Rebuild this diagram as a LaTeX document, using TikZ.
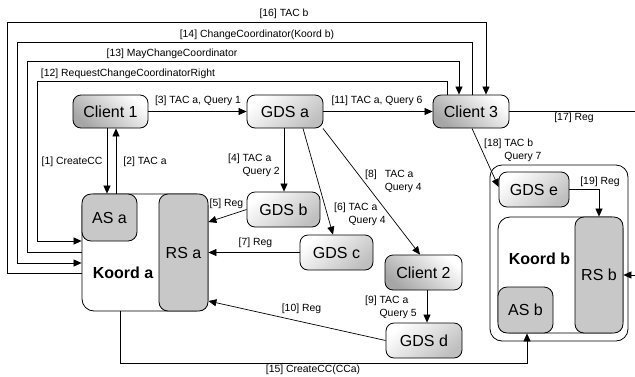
\documentclass[tikz,border=0pt]{standalone}
\usepackage{fontspec}
\setmainfont{Liberation Sans}
\usetikzlibrary{arrows.meta}
\definecolor{srvgray}{HTML}{C8C8C8}

\begin{document}
\begin{tikzpicture}[x=1pt, y=-1pt,
  box/.style={draw, rounded corners=8pt, inner sep=0pt, line width=0.8pt,
    font=\fontsize{16}{18}\selectfont},
  gds/.style={box, top color=white, bottom color=gray!50, shading angle=40},
  client/.style={box, top color=white, bottom color=gray!70, shading angle=-40},
  server/.style={draw, rounded corners=9pt, fill=srvgray, inner sep=0pt,
    line width=0.8pt, font=\fontsize{16}{18}\selectfont},
  koord/.style={draw, rounded corners=12pt, fill=white, line width=0.8pt, inner sep=0pt},
  klabel/.style={font=\fontsize{16}{18}\selectfont\bfseries, inner sep=0pt},
  lbl/.style={font=\fontsize{10.4}{13}\selectfont, inner sep=0pt},
  conn/.style={line width=0.7pt},
  arr/.style={conn, -{Triangle[length=8pt,width=7pt]}}]
\useasboundingbox (0,0) rectangle (635,376);

% ---- coordinator a ----
\node[koord, minimum width=126pt, minimum height=117pt] (koorda) at (145,252.5) {};
\node[server, minimum width=55pt, minimum height=47pt] (asa) at (109.5,217.5) {AS a};
\node[server, minimum width=49pt, minimum height=117pt] (rsa) at (183.5,252.5) {RS a};
\node[klabel] (koordalbl) at (123,273) {Koord a};

% ---- coordinator b ----
\node[koord, minimum width=138pt, minimum height=176pt] (domb) at (559,253) {};
\node[koord, minimum width=125pt, minimum height=116pt] (koordb) at (560.5,275) {};
\node[server, minimum width=48pt, minimum height=116pt] (rsb) at (599,275) {RS b};
\node[server, minimum width=55pt, minimum height=46pt] (asb) at (525.5,310) {AS b};
\node[klabel] (koordblbl) at (539.5,259) {Koord b};

% ---- clients and directory servers ----
\node[client, minimum width=75pt, minimum height=33pt] (client1) at (110.5,111.5) {Client 1};
\node[gds, minimum width=76pt, minimum height=33pt] (gdsa) at (285,111.5) {GDS a};
\node[client, minimum width=76pt, minimum height=33pt] (client3) at (471,111.5) {Client 3};
\node[gds, minimum width=73pt, minimum height=35pt] (gdsb) at (283.5,209.5) {GDS b};
\node[gds, minimum width=73pt, minimum height=35pt] (gdsc) at (336.5,252.5) {GDS c};
\node[client, minimum width=77pt, minimum height=35pt] (client2) at (423.5,272.5) {Client 2};
\node[gds, minimum width=76pt, minimum height=35pt] (gdsd) at (424,340.5) {GDS d};
\node[gds, minimum width=70pt, minimum height=35pt] (gdse) at (534,189.5) {GDS e};

% the return line of [17] runs just beyond the right edge
\coordinate (rt) at (637,0);

% ---- messages ----
\draw[arr] (client1.south -| 107,0) -- (asa.north -| 107,0);
\draw[arr] (asa.north -| 116,0) -- (client1.south -| 116,0);
\draw[arr] (client1) -- (gdsa);
\draw[arr] (gdsa.south -| 284,0) -- (gdsb.north -| 284,0);
\draw[arr] (gdsb.west) -- (rsa.east |- 0,222);
\draw[arr] (gdsa.south -| 303,0) -- (gdsc.north -| 333,0);
\draw[arr] (gdsc.west) -- (rsa.east |- gdsc.west);
\draw[arr] (gdsa.-24) -- (client2.north -| 420,0);
\draw[arr] (client2.south -| 427,0) -- (gdsd.north -| 427,0);
\draw[arr] (gdsd.west) -- (rsa.east |- 0,301);
\draw[arr] (gdsa) -- (client3);
\draw[arr] (client3.north -| 447,0) -- (447,81) -- (37,81) -- (37,241) -- (koorda.west |- 0,241);
\draw[arr] (koorda.west |- 0,252) -- (27,252) -- (27,61) -- (459,61) -- (client3.north -| 459,0);
\draw[arr] (client3.north -| 472,0) -- (472,42) -- (17,42) -- (17,263) -- (koorda.west |- 0,263);
\draw[arr] (koorda.south -| 120,0) -- (120,363) -- (527,363) -- (asb.south -| 527,0);
\draw[arr] (koorda.west |- 0,273) -- (7,273) -- (7,22) -- (486,22) -- (client3.north -| 486,0);
\draw[arr] (client3.east) -- (client3.east -| rt) -- (rt |- rsb.east) -- (rsb.east);
\draw[arr] (client3.south -| 472,0) -- (gdse.west |- 0,187);
\draw[arr] (gdse.east) -- (gdse.east -| rsb.north) -- (rsb.north);

% ---- message labels ----
\node[lbl] (l1) at (72,162) {[1] CreateCC};
\node[lbl] (l2) at (145,162) {[2] TAC a};
\node[lbl] (l3) at (198,101) {[3] TAC a, Query 1};
\node[lbl, anchor=west] (l4) at (228,165)
  {\begin{tabular}{@{}l@{ }l@{}}[4] & TAC a\\ & Query 2\end{tabular}};
\node[lbl] (l5) at (226.5,204) {[5] Reg};
\node[lbl, anchor=west] (l6) at (334,214)
  {\begin{tabular}{@{}l@{ }l@{}}[6] & TAC a\\ & Query 4\end{tabular}};
\node[lbl] (l7) at (255.5,243) {[7] Reg};
\node[lbl, anchor=west] (l8) at (365,181)
  {\begin{tabular}{@{}l@{\hspace{8pt}}l@{}}[8] & TAC a\\ & Query 4\end{tabular}};
\node[lbl, anchor=west] (l9) at (365,307.5)
  {\begin{tabular}{@{}l@{ }l@{}}[9] & TAC a\\ & Query 5\end{tabular}};
\node[lbl] (l10) at (301.5,309) {[10] Reg};
\node[lbl] (l11) at (377,101) {[11] TAC a, Query 6};
\node[lbl] (l12) at (128,74) {[12] RequestChangeCoordinatorRight};
\node[lbl] (l13) at (172,54) {[13] MayChangeCoordinator};
\node[lbl] (l14) at (257,35) {[14] ChangeCoordinator(Koord b)};
\node[lbl] (l15) at (313,370) {[15] CreateCC(CCa)};
\node[lbl] (l16) at (284,14) {[16] TAC b};
\node[lbl] (l17) at (574,118) {[17] Reg};
\node[lbl, anchor=west] (l18) at (484,150)
  {\begin{tabular}{@{}l@{ }l@{}}[18] & TAC b\\ & Query 7\end{tabular}};
\node[lbl] (l19) at (600,182) {[19] Reg};
\end{tikzpicture}
\end{document}
